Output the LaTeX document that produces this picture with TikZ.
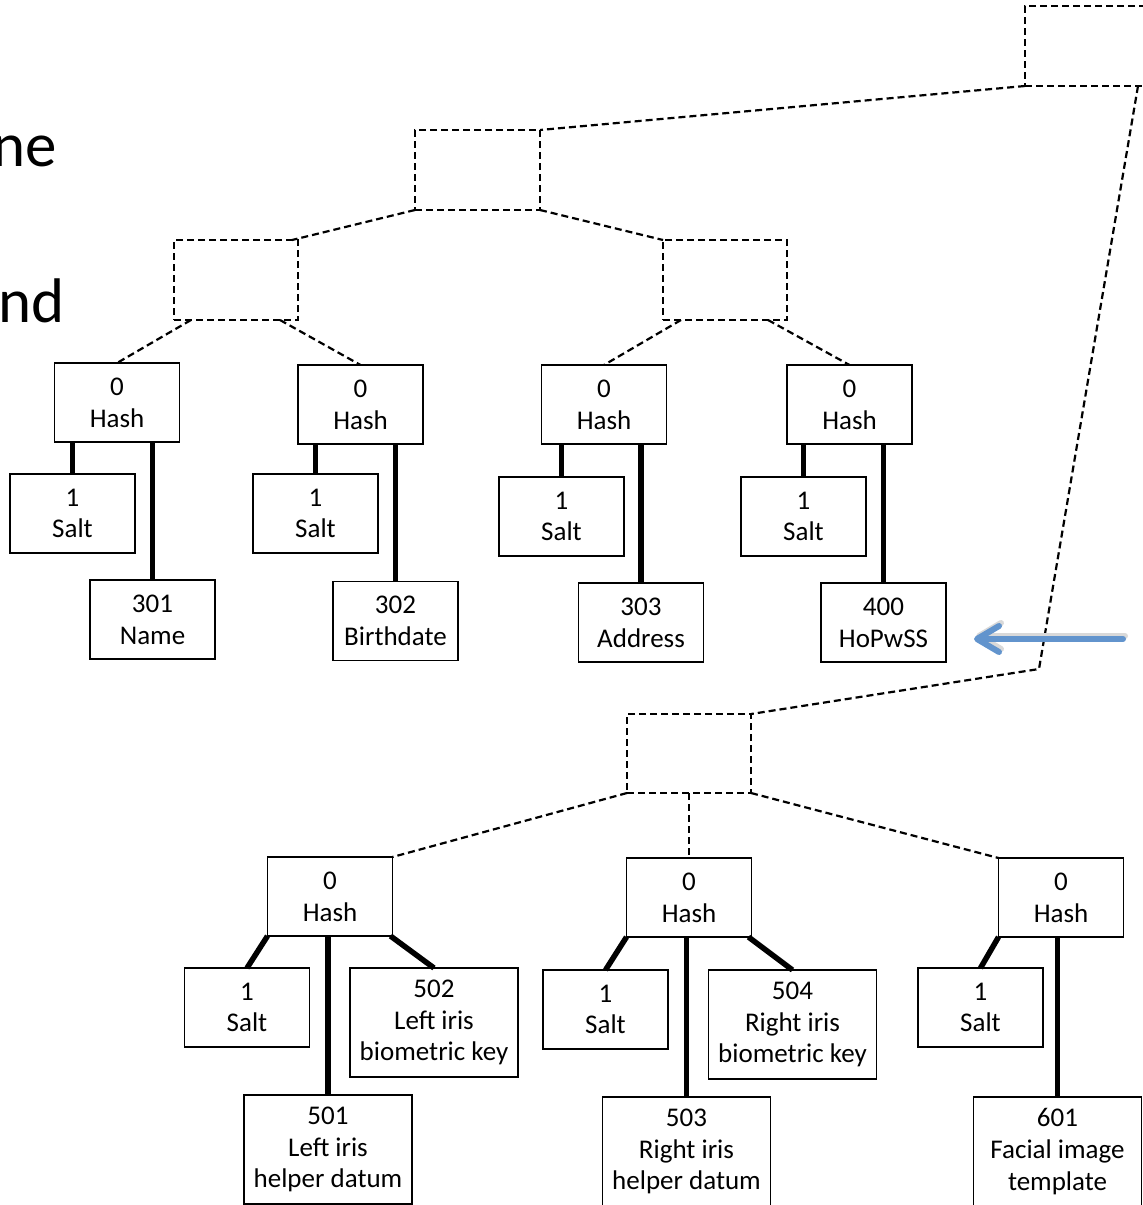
\documentclass[tikz,border=0pt]{standalone}
\usepackage{fontspec}
\setmainfont{Carlito}
\usetikzlibrary{arrows.meta}
\definecolor{arrowblue}{RGB}{98,148,205}
\begin{document}
\begin{tikzpicture}[x=1pt,y=-1pt,
  every node/.style={inner sep=0pt,outer sep=0pt,align=center,
    font=\fontsize{27}{31.7}\selectfont},
  dbox/.style={draw,line width=2.2pt,dash pattern=on 7pt off 4pt,
    minimum width=125pt,minimum height=80pt},
  hbox/.style={draw,line width=1.8pt,minimum width=125pt,minimum height=79pt},
  tbox/.style={draw,line width=1.8pt,minimum width=168pt,minimum height=109pt},
  bond/.style={line width=5.5pt},
  dlink/.style={line width=2.2pt,dash pattern=on 7pt off 4pt}]
\useasboundingbox (0,0) rectangle (1143,1205);
\clip (0,0) rectangle (1143,1205);

% partial slide text (cut at the left edge, as in the original)
\node[anchor=base east,font=\fontsize{63}{76}\selectfont] (tne) at (57,166) {ne};
\node[anchor=base east,font=\fontsize{63}{76}\selectfont] (tnd) at (65,322) {nd};

% dashed (empty) upper nodes
\node[dbox] (top) at (1087.5,46) {};
\node[dbox] (b2) at (477.5,170) {};
\node[dbox,minimum width=124pt] (bL) at (236,280) {};
\node[dbox,minimum width=124pt] (bR) at (725,280) {};
\node[dbox,minimum width=124pt,minimum height=79pt] (bB) at (689,753.5) {};
\coordinate (bend) at (1039,669);

% upper tree leaves
\node[hbox] (h1) at (117,402.5) {0\\Hash};
\node[hbox] (h2) at (360.5,404.5) {0\\Hash};
\node[hbox] (h3) at (604,404.5) {0\\Hash};
\node[hbox] (h4) at (849.5,404.5) {0\\Hash};
\node[hbox] (s1) at (72.5,513.5) {1\\Salt};
\node[hbox] (s2) at (315.5,513.5) {1\\Salt};
\node[hbox] (s3) at (561.5,516.5) {1\\Salt};
\node[hbox] (s4) at (803.5,516.5) {1\\Salt};
\node[hbox] (d1) at (152.5,619.5) {301\\Name};
\node[hbox] (d2) at (395.5,621) {302\\Birthdate};
\node[hbox] (d3) at (641,622.5) {303\\Address};
\node[hbox] (d4) at (883.5,622.5) {400\\HoPwSS};

% lower tree
\node[hbox] (h5) at (330,896.5) {0\\Hash};
\node[hbox] (h6) at (689,897.5) {0\\Hash};
\node[hbox] (h7) at (1061,897.5) {0\\Hash};
\node[hbox] (s5) at (247,1007.5) {1\\Salt};
\node[hbox] (s6) at (605.5,1009.5) {1\\Salt};
\node[hbox] (s7) at (980.5,1007.5) {1\\Salt};
\node[tbox] (k502) at (434,1022.5) {502\\Left iris\\biometric key};
\node[tbox] (k504) at (792.5,1024.5) {504\\Right iris\\biometric key};
\node[tbox] (p501) at (328,1149.5) {501\\Left iris\\helper datum};
\node[tbox] (p503) at (686.5,1151.5) {503\\Right iris\\helper datum};
\node[tbox] (p601) at (1057.5,1151.5) {601\\Facial image\\template};

% dashed links
\draw[dlink] (top.south west) -- (b2.north east);
\draw[dlink] ([xshift=-12pt]top.south east) -- (bend) -- (bB.north east);
\draw[dlink] (b2.south west) -- ([xshift=-6pt]bL.north east);
\draw[dlink] (b2.south east) -- (bR.north west);
\draw[dlink] ([xshift=17pt]bL.south west) -- (h1.north);
\draw[dlink] ([xshift=-18pt]bL.south east) -- (h2.north);
\draw[dlink] ([xshift=18pt]bR.south west) -- (h3.north);
\draw[dlink] ([xshift=-19pt]bR.south east) -- (h4.north);
\draw[dlink] (bB.south west) -- (h5.north east);
\draw[dlink] (bB.south) -- (h6.north);
\draw[dlink] (bB.south east) -- (h7.north west);

% thick bonds
\draw[bond] (s1.north) -- (s1.north |- h1.south);
\draw[bond] (d1.north) -- (d1.north |- h1.south);
\draw[bond] (s2.north) -- (s2.north |- h2.south);
\draw[bond] (d2.north) -- (d2.north |- h2.south);
\draw[bond] (s3.north) -- (s3.north |- h3.south);
\draw[bond] (d3.north) -- (d3.north |- h3.south);
\draw[bond] (s4.north) -- (s4.north |- h4.south);
\draw[bond] (d4.north) -- (d4.north |- h4.south);

\draw[bond] (h5.south west) -- (s5.north);
\draw[bond] (p501.north) -- (p501.north |- h5.south);
\draw[bond] ([xshift=-2pt]h5.south east) -- (k502.north);
\draw[bond] (h6.south west) -- (s6.north);
\draw[bond] (p503.north) -- (p503.north |- h6.south);
\draw[bond] ([xshift=-3pt]h6.south east) -- (k504.north);
\draw[bond] (h7.south west) -- (s7.north);
\draw[bond] (p601.north) -- (p601.north |- h7.south);

% blue arrow
\coordinate (arrS) at (1123,639);
\coordinate (arrE) at (974,639);
\draw[black!15,line width=6pt,line cap=round,
  -{Straight Barb[length=22pt,width=26pt,line width=6pt,round]}]
  ([shift={(2pt,3pt)}]arrS) -- ([shift={(2pt,3pt)}]arrE);
\draw[arrowblue,line width=6pt,line cap=round,
  -{Straight Barb[length=22pt,width=26pt,line width=6pt,round]}] (arrS) -- (arrE);
\end{tikzpicture}
\end{document}
